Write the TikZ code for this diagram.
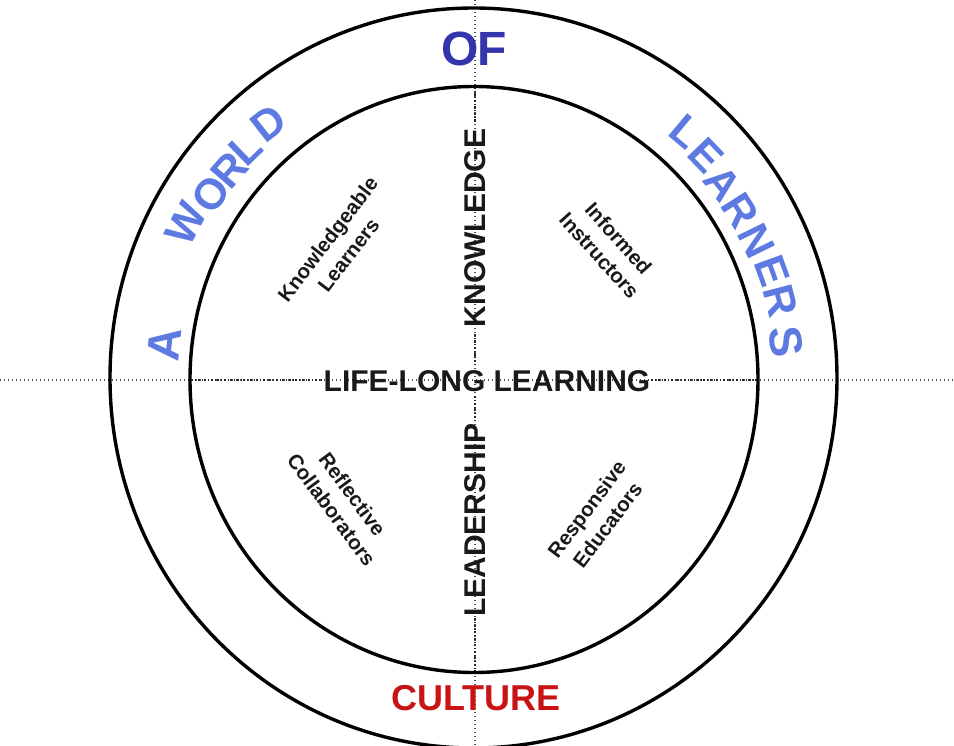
\documentclass[tikz,border=0pt]{standalone}
\usepackage{fontspec}
\setmainfont{Liberation Sans}
\definecolor{wblue}{RGB}{92,122,226}
\definecolor{ofblue}{RGB}{52,52,172}
\definecolor{cred}{RGB}{200,20,20}
\definecolor{ink}{RGB}{25,25,25}
\tikzset{
  ring/.style={line width=3.4pt, black},
  finedot/.style={line width=1.1pt, gray!60!black, dash pattern=on 1pt off 3pt},
  dashdot/.style={line width=1.4pt, black!85, dash pattern=on 2.4pt off 1.6pt on 0.9pt off 1.6pt},
  txt/.style={inner sep=0pt, font=\bfseries},
  bigtxt/.style={txt, text=ink, font=\fontsize{30}{32}\selectfont\bfseries},
  smalltxt/.style={txt, text=ink, align=center, font=\fontsize{20.5}{26}\selectfont\bfseries},
  wa/.style={txt, text=wblue, font=\fontsize{43}{45}\selectfont\bfseries},
}
\begin{document}
\begin{tikzpicture}[x=1pt,y=-1pt]
\useasboundingbox (0,0) rectangle (954,746);
\clip (0,0) rectangle (954,746);
\fill[white] (0,0) rectangle (954,746);
% axis lines
\coordinate (hl) at (0,380);
\coordinate (hr) at (954,380);
\coordinate (vt) at (475,0);
\coordinate (vb) at (475,746);
\draw[finedot] (hl) -- (hr);
\draw[finedot] (vt) -- (vb);
\coordinate (h1a) at (191,380); \coordinate (h1b) at (322,380);
\coordinate (h2a) at (651,380); \coordinate (h2b) at (757,380);
\coordinate (v1a) at (475,87);  \coordinate (v1b) at (475,122);
\coordinate (v2a) at (475,334); \coordinate (v2b) at (475,366);
\coordinate (v3a) at (475,396); \coordinate (v3b) at (475,422);
\coordinate (v4a) at (475,618); \coordinate (v4b) at (475,672);
\draw[dashdot] (h1a) -- (h1b);
\draw[dashdot] (h2a) -- (h2b);
\draw[dashdot] (v1a) -- (v1b);
\draw[dashdot] (v2a) -- (v2b);
\draw[dashdot] (v3a) -- (v3b);
\draw[dashdot] (v4a) -- (v4b);
% rings
\draw[ring] (473.5,378) ellipse [x radius=363.5pt, y radius=370pt];
\draw[ring] (474,379.5) ellipse [x radius=284pt, y radius=293pt];
% central texts
\node[bigtxt] (life) at (487,381) {LIFE-LONG LEARNING};
\node[bigtxt, rotate=90] (know) at (475,228) {KNOWLEDGE};
\node[bigtxt, rotate=90] (lead) at (475,520) {LEADERSHIP};
% quadrant texts
\node[smalltxt, rotate=52.6] (kl) at (338,247) {Knowledgeable\\Learners};
\node[smalltxt, rotate=-48] (ii) at (609,247) {Informed\\Instructors};
\node[smalltxt, rotate=-53.5] (rc) at (342,502) {Reflective\\Collaborators};
\node[smalltxt, rotate=53] (re) at (597,517) {Responsive\\Educators};
% outer ring wordart
\node[wa, font=\fontsize{46}{48}\selectfont\bfseries, rotate=84] (a) at (164,344) {A};
\node[wa, rotate=62] (w1) at (186,224) {W};
\node[wa, rotate=55] (w2) at (211,194) {O};
\node[wa, rotate=49] (w3) at (230,170) {R};
\node[wa, rotate=44] (w4) at (246,149) {L};
\node[wa, rotate=38] (w5) at (269,123) {D};
\node[wa, text=ofblue, font=\fontsize{48}{50}\selectfont\bfseries] (o1) at (460,49) {O};
\node[wa, text=ofblue, font=\fontsize{48}{50}\selectfont\bfseries] (o2) at (492,49) {F};
\node[wa, rotate=-40] (l1) at (686,132) {L};
\node[wa, rotate=-46] (l2) at (706,156) {E};
\node[wa, rotate=-51.5] (l3) at (723,183) {A};
\node[wa, rotate=-57.5] (l4) at (740,211) {R};
\node[wa, rotate=-64] (l5) at (757,241) {N};
\node[wa, rotate=-70] (l6) at (772,271) {E};
\node[wa, rotate=-75.5] (l7) at (781,301) {R};
\node[wa, rotate=-83, font=\fontsize{46}{48}\selectfont\bfseries] (l8) at (786,342) {S};
\node[txt, text=cred, font=\fontsize{36}{38}\selectfont\bfseries] (cult) at (476,698) {CULTURE};
\end{tikzpicture}
\end{document}
